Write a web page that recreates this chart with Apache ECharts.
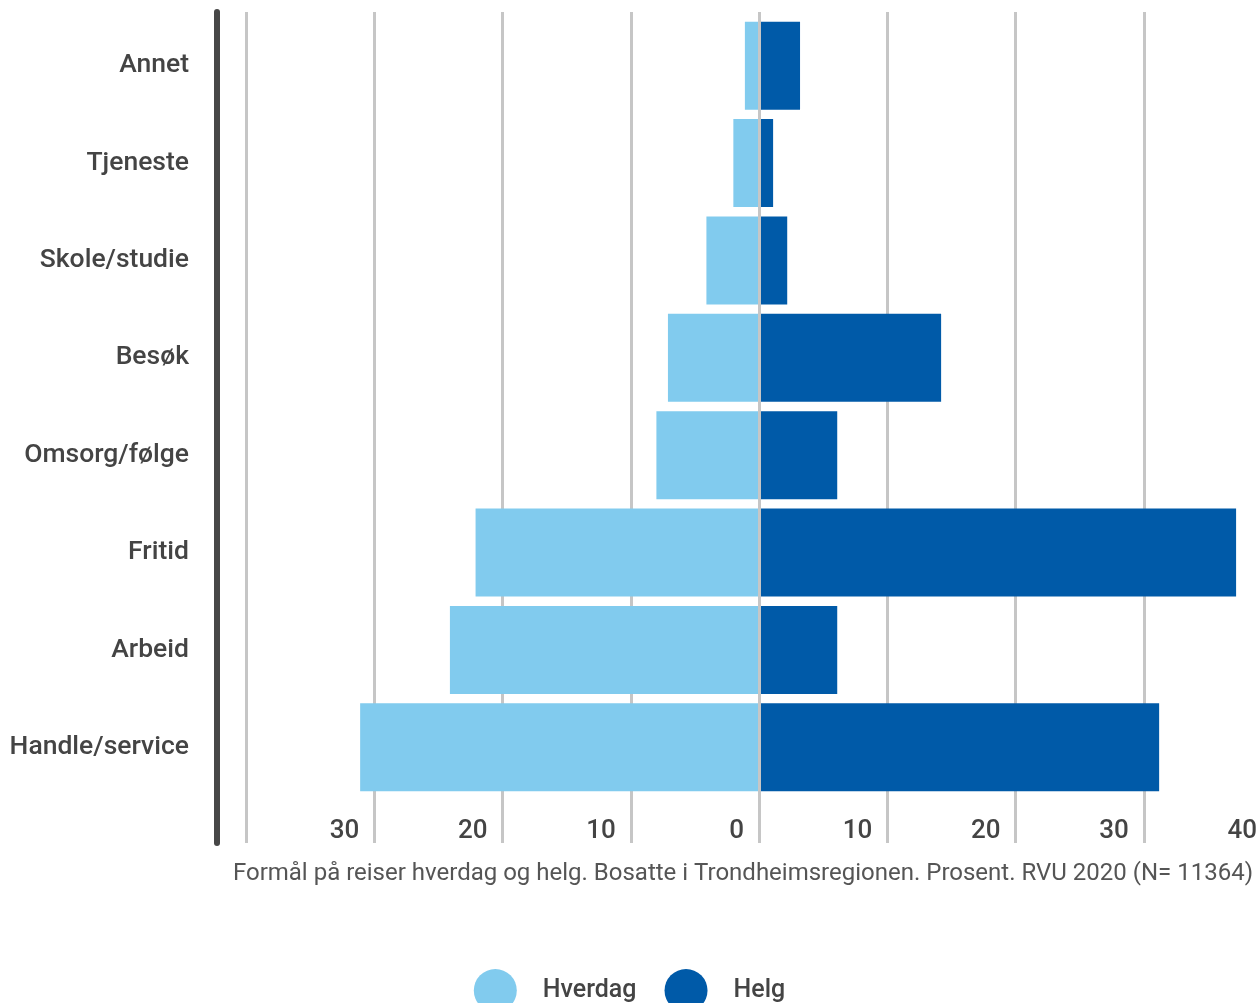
<!DOCTYPE html>
<html>
<head>
<meta charset="utf-8">
<style>
  html, body { margin: 0; padding: 0; background: #ffffff; }
  #chart { width: 1259px; height: 1003px; }
</style>
<script src="https://cdn.jsdelivr.net/npm/echarts@6/dist/echarts.min.js"></script>
</head>
<body>
<div id="chart"></div>
<script>
// Travel purposes, weekday vs weekend (percent)
const categories = ['Annet', 'Tjeneste', 'Skole/studie', 'Besøk', 'Omsorg/følge', 'Fritid', 'Arbeid', 'Handle/service'];
const hverdag = [1.1, 2.0, 4.1, 7.1, 8.0, 22.1, 24.1, 31.1];
const helg = [3.2, 1.1, 2.2, 14.2, 6.1, 37.2, 6.1, 31.2];
const seriesNames = ['Hverdag', 'Helg'];
const caption = 'Formål på reiser hverdag og helg. Bosatte i Trondheimsregionen. Prosent. RVU 2020 (N= 11364)';
const axisMin = -40, axisMax = 40, axisStep = 10;

const lightBlue = '#81cbee';
const darkBlue = '#005aa8';
const textColor = '#444444';
const gridColor = '#c6c6c6';
const font = 'Roboto, "Noto Sans", sans-serif';

const chart = echarts.init(document.getElementById('chart'), null, { renderer: 'canvas' });

chart.setOption({
  animation: false,
  title: {
    text: caption,
    right: 6,
    top: 862,
    padding: 0,
    textStyle: { fontFamily: font, fontSize: 24, fontWeight: 'normal', color: '#555555' }
  },
  legend: {
    data: seriesNames,
    left: 'center',
    top: 964,
    icon: 'circle',
    itemWidth: 43,
    itemHeight: 43,
    itemGap: 28,
    textStyle: { fontFamily: font, fontSize: 25, fontWeight: 500, color: textColor, padding: [0, 0, 0, 21] }
  },
  grid: [
    // bars (the axis runs a little past the right edge, so 40 sits off-canvas)
    { left: 246, right: -13, top: 17, height: 779, outerBoundsMode: 'none', containLabel: false },
    // frame with grid lines, tick labels and the left rule
    { left: 246, right: -13, top: 12, height: 831, outerBoundsMode: 'none', containLabel: false }
  ],
  xAxis: [
    {
      gridIndex: 0, type: 'value', min: axisMin, max: axisMax, interval: axisStep,
      show: false
    },
    {
      gridIndex: 1, type: 'value', min: axisMin, max: axisMax, interval: axisStep,
      axisLine: { show: false },
      axisTick: { show: false },
      splitLine: { show: true, lineStyle: { color: gridColor, width: 3 } },
      axisLabel: {
        inside: true,
        showMinLabel: false,
        margin: 12,
        align: 'right',
        verticalAlign: 'middle',
        padding: [0, 15, 0, 0],
        fontFamily: font, fontSize: 26, fontWeight: 500, color: textColor,
        formatter: v => String(Math.abs(v))
      }
    }
  ],
  yAxis: [
    {
      gridIndex: 0, type: 'category', data: categories, inverse: true,
      axisLine: { show: false },
      axisTick: { show: false },
      splitLine: { show: false },
      axisLabel: {
        margin: 57, padding: [4, 0, 0, 0],
        fontFamily: font, fontSize: 26.5, fontWeight: 500, color: textColor
      }
    },
    {
      gridIndex: 1, type: 'value', offset: 29,
      axisLine: { show: true, onZero: false, lineStyle: { color: '#474747', width: 6 } },
      axisTick: { show: false },
      axisLabel: { show: false },
      splitLine: { show: false }
    }
  ],
  series: [
    {
      name: seriesNames[0], type: 'bar', stack: 'trips',
      xAxisIndex: 0, yAxisIndex: 0,
      barCategoryGap: '9.7%',
      itemStyle: { color: lightBlue },
      data: hverdag.map(v => -v)
    },
    {
      name: seriesNames[1], type: 'bar', stack: 'trips',
      xAxisIndex: 0, yAxisIndex: 0,
      barCategoryGap: '9.7%',
      itemStyle: { color: darkBlue },
      data: helg,
      markLine: {
        silent: true,
        symbol: 'none',
        label: { show: false },
        lineStyle: { color: gridColor, width: 3, type: 'solid' },
        data: [{ xAxis: 0 }]
      }
    }
  ]
});
</script>
</body>
</html>
